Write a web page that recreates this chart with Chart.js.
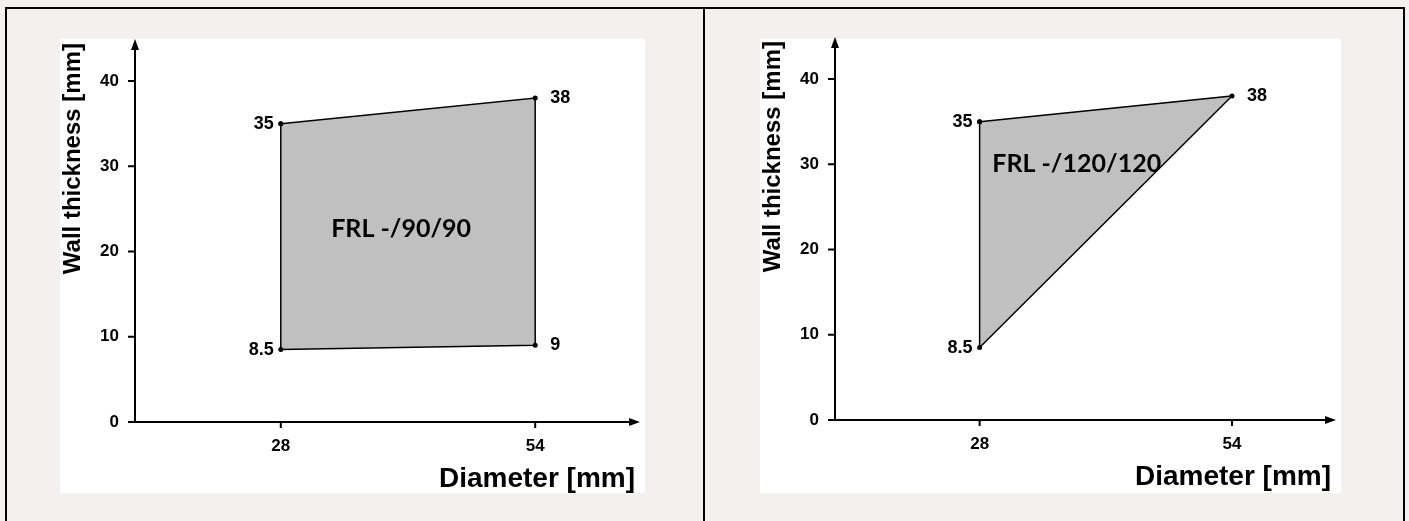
<!DOCTYPE html>
<html>
<head>
<meta charset="utf-8">
<title>FRL wall thickness ranges</title>
<script src="https://cdn.jsdelivr.net/npm/chart.js@4/dist/chart.umd.min.js"></script>
<style>
  html, body { margin: 0; padding: 0; }
  body {
    width: 1409px; height: 521px; overflow: hidden; position: relative;
    background: #f3f1ee;
  }
  .frame {
    position: absolute; left: 5px; top: 7px; width: 1400px; height: 530px;
    border: 2px solid #000; box-sizing: border-box;
  }
  .divider { position: absolute; left: 703px; top: 7px; width: 2px; height: 514px; background: #000; }
  .sheet { position: absolute; background: #fff; }
  canvas { position: absolute; }
</style>
</head>
<body>
<div class="frame"></div>
<div class="divider"></div>
<div class="sheet" style="left:60px;top:39px;width:585px;height:454px"></div>
<div class="sheet" style="left:760px;top:39px;width:581px;height:454px"></div>
<canvas id="chart90" width="585" height="454" style="left:60px;top:39px"></canvas>
<canvas id="chart120" width="581" height="454" style="left:760px;top:37px"></canvas>

<script>
var diameterTicks = [28, 54];
var thicknessTicks = [0, 10, 20, 30, 40];

// FRL -/90/90 region corners
var frl90Diameter = [28, 54, 54, 28];
var frl90Thickness = [35, 38, 9, 8.5];
var frl90Labels = ['35', '38', '9', '8.5'];

// FRL -/120/120 region corners
var frl120Diameter = [28, 54, 28];
var frl120Thickness = [35, 38, 8.5];
var frl120Labels = ['35', '38', '8.5'];

Chart.defaults.font.family = "'Liberation Sans', Arial, sans-serif";
Chart.defaults.color = '#000';

// axis lines with arrow heads, plus the tick marks
var axisArrows = {
    id: 'axisArrows',
    afterDraw: function(chart) {
        var ctx = chart.ctx, a = chart.chartArea,
            xs = chart.scales.x, ys = chart.scales.y;
        ctx.save();
        ctx.strokeStyle = '#000';
        ctx.fillStyle = '#000';
        ctx.lineWidth = 2;
        ctx.beginPath();
        ctx.moveTo(a.left, a.bottom + 1);
        ctx.lineTo(a.left, a.top + 4);
        ctx.moveTo(a.left - 2, a.bottom);
        ctx.lineTo(a.right, a.bottom);
        ys.ticks.forEach(function(t) {
            var y = ys.getPixelForValue(t.value);
            ctx.moveTo(a.left - 7, y);
            ctx.lineTo(a.left, y);
        });
        xs.ticks.forEach(function(t) {
            var x = xs.getPixelForValue(t.value);
            ctx.moveTo(x, a.bottom);
            ctx.lineTo(x, a.bottom + 6);
        });
        ctx.stroke();
        ctx.beginPath();
        ctx.moveTo(a.left, a.top - 4);
        ctx.lineTo(a.left - 4, a.top + 7);
        ctx.lineTo(a.left + 4, a.top + 7);
        ctx.closePath();
        ctx.fill();
        ctx.beginPath();
        ctx.moveTo(a.right + 5, a.bottom);
        ctx.lineTo(a.right - 6, a.bottom - 4);
        ctx.lineTo(a.right - 6, a.bottom + 4);
        ctx.closePath();
        ctx.fill();
        ctx.restore();
    }
};

// corner values next to the points, and the FRL caption inside the region
var regionText = {
    id: 'regionText',
    afterDatasetsDraw: function(chart, args, opts) {
        var ctx = chart.ctx,
            ds = chart.data.datasets[0],
            meta = chart.getDatasetMeta(0),
            xs = chart.scales.x, ys = chart.scales.y;
        ctx.save();
        ctx.fillStyle = '#000';
        ctx.textBaseline = 'middle';
        ctx.font = "bold 18px 'Liberation Sans', Arial, sans-serif";
        ds.cornerLabels.forEach(function(txt, i) {
            var p = meta.data[i];
            if (ds.data[i].x == diameterTicks[0]) {
                ctx.textAlign = 'right';
                ctx.fillText(txt, p.x - 7, p.y);
            } else {
                ctx.textAlign = 'left';
                ctx.fillText(txt, p.x + 15, p.y);
            }
        });
        ctx.font = "bold 25px Lato, 'Open Sans', sans-serif";
        ctx.textAlign = opts.align;
        ctx.fillText(opts.text, xs.getPixelForValue(opts.x), ys.getPixelForValue(opts.y));
        ctx.restore();
    }
};

function buildChart(id, diameters, thickness, labels, caption) {
    var points = diameters.map(function(d, i) {
        return { x: d, y: thickness[i] };
    });
    points.push(points[0]);

    return new Chart(document.getElementById(id).getContext('2d'), {
        type: 'scatter',
        data: {
            datasets: [{
                data: points,
                cornerLabels: labels,
                showLine: true,
                fill: 'shape',
                backgroundColor: '#c0c0c0',
                borderColor: '#000',
                borderWidth: 1.5,
                pointRadius: 2.5,
                pointBackgroundColor: '#000',
                pointBorderWidth: 0
            }]
        },
        options: {
            responsive: false,
            animation: false,
            layout: { padding: { top: 4, right: 10, bottom: 0, left: 0 } },
            plugins: {
                legend: { display: false },
                tooltip: { enabled: false },
                regionText: caption
            },
            scales: {
                x: {
                    type: 'linear',
                    min: 13.1,
                    max: 64.2,
                    afterBuildTicks: function(s) {
                        s.ticks = diameterTicks.map(function(v) { return { value: v }; });
                    },
                    afterFit: function(s) {
                        s.height = 71;
                        s.paddingLeft = 0;
                        s.paddingRight = 0;
                    },
                    border: { display: false },
                    grid: {
                        drawOnChartArea: false,
                        tickLength: 6,
                        color: 'rgba(0,0,0,0)'
                    },
                    ticks: { padding: 8, font: { size: 17, weight: 'bold' } },
                    title: {
                        display: true,
                        text: 'Diameter [mm]',
                        align: 'end',
                        padding: 0,
                        font: { size: 28, weight: 'bold', lineHeight: 1 }
                    }
                },
                y: {
                    min: 0,
                    max: 44.46,
                    afterBuildTicks: function(s) {
                        s.ticks = thicknessTicks.map(function(v) { return { value: v }; });
                    },
                    afterFit: function(s) {
                        s.width = 75;
                        s.paddingTop = 0;
                        s.paddingBottom = 0;
                    },
                    border: { display: false },
                    grid: {
                        drawOnChartArea: false,
                        tickLength: 7,
                        color: 'rgba(0,0,0,0)'
                    },
                    ticks: { padding: 9, font: { size: 17, weight: 'bold' } },
                    title: {
                        display: true,
                        text: 'Wall thickness [mm]',
                        align: 'end',
                        padding: { top: 1, bottom: 0 },
                        font: { size: 24, weight: 'bold', lineHeight: 1 }
                    }
                }
            }
        },
        plugins: [axisArrows, regionText]
    });
}

buildChart('chart90', frl90Diameter, frl90Thickness, frl90Labels,
    { text: 'FRL -/90/90', x: 40.3, y: 22.6, align: 'center' });
buildChart('chart120', frl120Diameter, frl120Thickness, frl120Labels,
    { text: 'FRL -/120/120', x: 29.3, y: 30.0, align: 'left' });
</script>
</body>
</html>
